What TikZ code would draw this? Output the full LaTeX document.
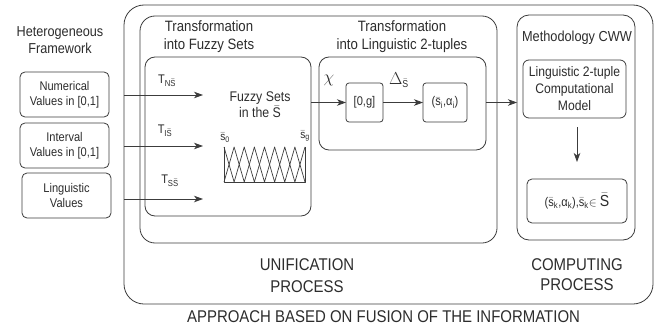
\documentclass[tikz,border=0pt]{standalone}
\usepackage{fontspec}
\setmainfont{Liberation Sans}[FakeStretch=0.88]
\usetikzlibrary{arrows.meta}
\newcommand{\barS}{\ensuremath{\bar{\hbox{S}}}}
\newcommand{\bars}{\ensuremath{\bar{\hbox{s}}}}
\newcommand{\fsz}[2]{\fontsize{#1}{#2}\selectfont}
\begin{document}
\begin{tikzpicture}[x=1pt,y=1pt,
  box/.style={draw=drawColor,line width=0.8pt,rounded corners=#1,inner sep=0pt,outer sep=0pt,
    text=textColor,align=center,font=\fsz{12.6}{15}},
  box/.default=4pt,
  lbl/.style={text=textColor,inner sep=0pt,outer sep=0pt,align=center},
  arr/.style={draw=drawColor,line width=0.8pt,-{Stealth[length=9pt,width=6.5pt,inset=2.5pt]}}]
\definecolor{fillColor}{RGB}{255,255,255}
\definecolor{drawColor}{RGB}{60,60,60}
\definecolor{textColor}{RGB}{45,45,45}
\path[use as bounding box,fill=fillColor] (0,0) rectangle (658,330);
\begin{scope}
\node[box=20pt,minimum width=529,minimum height=299] (approach) at (388.5,175.5) {};

\node[box=15pt,minimum width=357,minimum height=227] (unif) at (318.5,200.5) {};

\node[box=10pt,minimum width=166,minimum height=159] (fuzzy) at (228,193.5) {};

\node[box=10pt,minimum width=167,minimum height=93] (ling) at (402.5,226.5) {};

\node[box=3pt,minimum width=37,minimum height=39] (zero) at (364.5,227.5) {[0,g]};

\node[box=3pt,minimum width=44,minimum height=39] (tuple) at (445,227.5) {(\bars\textsubscript{i},α\textsubscript{i})};

\node[box=12pt,minimum width=118,minimum height=225] (cww) at (576,202.5) {};

\node[box=6pt,minimum width=103,minimum height=58,font=\fsz{13.8}{17}] (model) at (574.5,241) {Linguistic 2-tuple\\Computational\\Model};

\node[box=5pt,minimum width=100,minimum height=44] (result) at (577,129) {(\bars\textsubscript{k},α\textsubscript{k}),\bars\textsubscript{k}$\in$ {\fsz{16}{16}\barS}};
\end{scope}
\begin{scope}
\node[box=5pt,minimum width=89,minimum height=45] (num) at (64.5,235.5) {Numerical\\Values in [0,1]};

\node[box=5pt,minimum width=89,minimum height=45] (intv) at (64.5,184.5) {Interval\\Values in [0,1]};

\node[box=5pt,minimum width=89,minimum height=45] (lingval) at (66.5,134.5) {Linguistic\\Values};
\end{scope}
\begin{scope}
\node[lbl,font=\fsz{14.4}{17}] (hetero) at (60,290) {Heterogeneous\\Framework};

\node[lbl,font=\fsz{15}{18}] (tfuzzy) at (209,293) {Transformation\\into Fuzzy Sets};

\node[lbl,font=\fsz{15}{18}] (tling) at (402,293) {Transformation\\into Linguistic 2-tuples};

\node[lbl,font=\fsz{14.5}{17}] (tcww) at (577,292) {Methodology CWW};

\node[lbl,font=\fsz{17}{22}] (tunif) at (307,54) {UNIFICATION\\PROCESS};

\node[lbl,font=\fsz{17}{20}] (tcomp) at (577,55) {COMPUTING\\PROCESS};

\node[lbl,font=\fsz{17}{17}] (tapproach) at (383.5,13) {APPROACH BASED ON FUSION OF THE INFORMATION};
\end{scope}
\begin{scope}
\node[lbl,font=\fsz{12.5}{15}] (tns) at (167,249) {T\textsubscript{N\barS}};

\node[lbl,font=\fsz{12.5}{15}] (tis) at (165,199) {T\textsubscript{I\barS}};

\node[lbl,font=\fsz{12.5}{15}] (tss) at (170,149) {T\textsubscript{S\barS}};

\node[lbl,font=\fsz{14}{16}] (fstext) at (260,225) {Fuzzy Sets\\in the \barS};

\node[lbl,font=\fsz{11.5}{13}] (s0) at (225,192) {\bars\textsubscript{0}};

\node[lbl,font=\fsz{11.5}{13}] (sg) at (305,194) {\bars\textsubscript{g}};

\node[lbl,font=\fsz{18}{18}] (chi) at (329,250) {$\chi$};

\node[lbl,font=\fsz{18}{18}] (delta) at (399,250) {$\Delta$\textsubscript{\fsz{10}{10}\barS}};
\end{scope}
\begin{scope}
\path[draw=drawColor,line width=0.7pt,line join=round] (224,183) --
	(234.125,148) -- (244.25,183) -- (254.375,148) -- (264.5,183) --
	(274.625,148) -- (284.75,183) -- (294.875,148) -- (305,183);

\path[draw=drawColor,line width=0.7pt,line join=round] (224,148) --
	(234.125,183) -- (244.25,148) -- (254.375,183) -- (264.5,148) --
	(274.625,183) -- (284.75,148) -- (294.875,183) -- (305,148);

\path[draw=drawColor,line width=0.7pt,line join=round] (224,183) --
	(224,148) -- (305,148) -- (305,183);
\end{scope}
\begin{scope}
\coordinate (tn) at (203,235);
\coordinate (ti) at (203,184);
\coordinate (ts) at (203,131);

\path[arr] (approach.west |- tn) -- (tn);

\path[arr] (approach.west |- ti) -- (ti);

\path[arr] (approach.west |- ts) -- (ts);

\path[arr] (fuzzy.east |- zero) -- (zero);

\path[arr] (zero) -- (tuple);

\path[arr] (ling.east |- tuple) -- (cww.west |- tuple);

\path[arr,shorten <=9pt,shorten >=17pt] (model.south -| result.north) -- (result.north);
\end{scope}
\end{tikzpicture}
\end{document}
